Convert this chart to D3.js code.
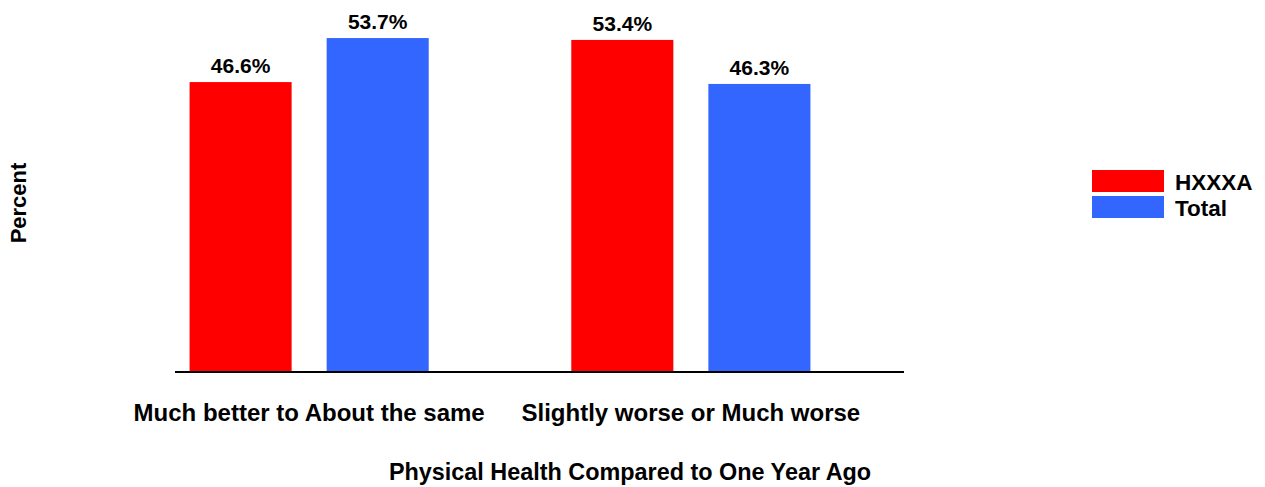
<!DOCTYPE html>
<html>
<head>
<meta charset="utf-8">
<script src="https://cdn.jsdelivr.net/npm/d3@7"></script>
<style>
  body { margin: 0; background: #fff; }
  text { font-family: Arial, "Liberation Sans", sans-serif; font-weight: bold; fill: #000; }
</style>
</head>
<body>
<div id="chart"></div>
<script>
// datos
const categories = ["Much better to About the same", "Slightly worse or Much worse"];
const seriesNames = ["HXXXA", "Total"];
const seriesColors = ["#ff0000", "#3366ff"];
const hxxxa = [46.6, 53.4];
const total = [53.7, 46.3];

const width = 1265, height = 487;
const baseY = 371;

const svg = d3.select("#chart").append("svg")
  .attr("width", width)
  .attr("height", height);

// escalas
const x0 = d3.scaleBand()
  .domain(categories)
  .range([47, 953])
  .paddingInner(0.3735)
  .paddingOuter(0.3735);

const x1 = d3.scaleBand()
  .domain(seriesNames)
  .range([0, x0.bandwidth()])
  .paddingInner(0.2555);

const y = d3.scaleLinear()
  .domain([0, 60])
  .range([baseY, -1]);

const rows = categories.map((c, i) => ({cat: c, vals: [
  {name: "HXXXA", v: hxxxa[i]},
  {name: "Total", v: total[i]}
]}));

const color = d3.scaleOrdinal().domain(seriesNames).range(seriesColors);

const groups = svg.selectAll(".grp")
  .data(rows)
  .enter().append("g")
  .attr("transform", d => `translate(${x0(d.cat)},0)`);

groups.selectAll("rect")
  .data(d => d.vals)
  .enter().append("rect")
  .attr("x", d => x1(d.name))
  .attr("y", d => y(d.v))
  .attr("width", x1.bandwidth())
  .attr("height", d => baseY - y(d.v))
  .attr("fill", d => color(d.name));

groups.selectAll(".lbl")
  .data(d => d.vals)
  .enter().append("text")
  .attr("x", d => x1(d.name) + x1.bandwidth() / 2)
  .attr("y", d => y(d.v) - 9)
  .attr("text-anchor", "middle")
  .style("font-size", "21px")
  .text(d => d.v.toFixed(1) + "%");

// eje x
svg.append("line")
  .attr("x1", 175).attr("x2", 904)
  .attr("y1", baseY + 1).attr("y2", baseY + 1)
  .attr("stroke", "#000").attr("stroke-width", 2);

svg.selectAll(".cat")
  .data(categories)
  .enter().append("text")
  .attr("x", d => x0(d) + x0.bandwidth() / 2)
  .attr("y", 421)
  .attr("text-anchor", "middle")
  .style("font-size", "24px")
  .text(d => d);

svg.append("text")
  .attr("x", 630).attr("y", 480)
  .attr("text-anchor", "middle")
  .style("font-size", "23.4px")
  .text("Physical Health Compared to One Year Ago");

svg.append("text")
  .attr("transform", "translate(26,203) rotate(-90)")
  .attr("text-anchor", "middle")
  .style("font-size", "22px")
  .text("Percent");

// leyenda
const legend = svg.selectAll(".leg")
  .data(seriesNames)
  .enter().append("g")
  .attr("transform", (d, i) => `translate(1092,${170 + i * 26})`);

legend.append("rect")
  .attr("width", 72).attr("height", 22)
  .attr("fill", d => color(d));

legend.append("text")
  .attr("x", 83).attr("y", 20)
  .style("font-size", "22.5px")
  .text(d => d);
</script>
</body>
</html>
